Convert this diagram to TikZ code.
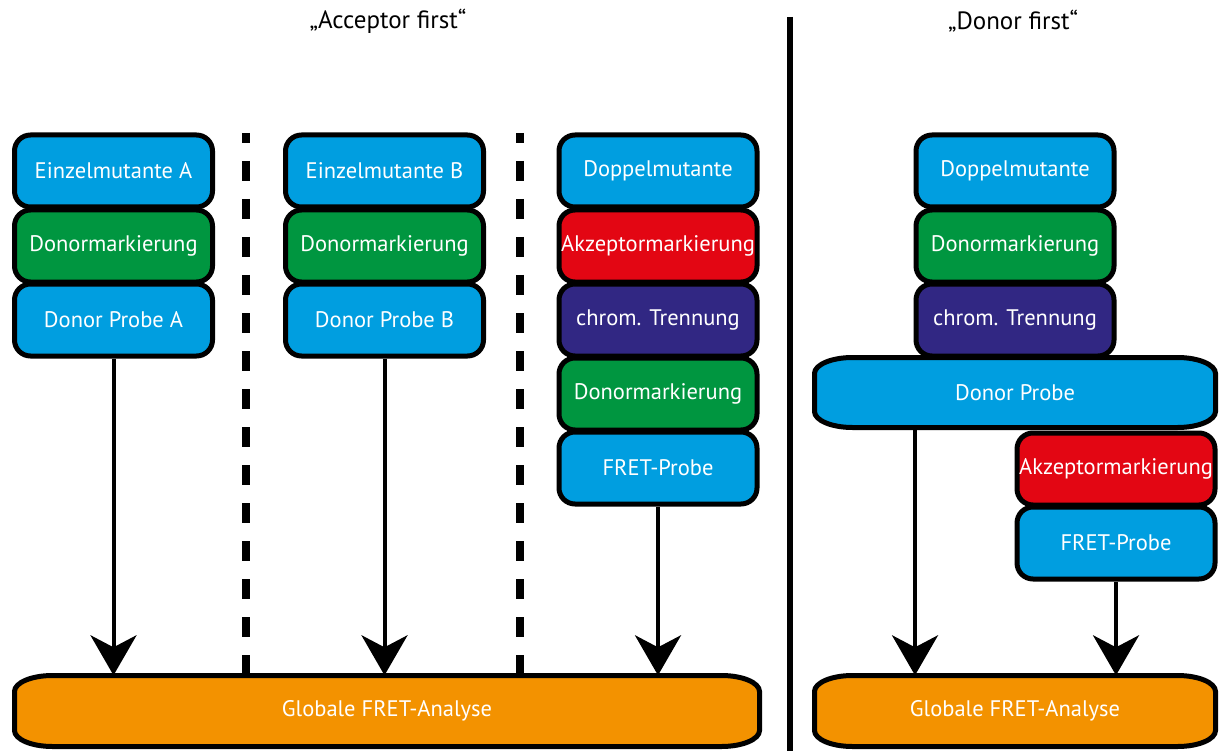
\documentclass[tikz,border=0pt]{standalone}
\usepackage{fontspec}
\setmainfont{PT Sans}
\usetikzlibrary{arrows.meta}
\definecolor{cblue}{RGB}{0,158,224}
\definecolor{cgreen}{RGB}{0,150,64}
\definecolor{cred}{RGB}{227,6,19}
\definecolor{cpurple}{RGB}{49,39,131}
\definecolor{corange}{RGB}{243,146,0}
\newcommand{\roundbar}[5]{%
  \draw[line width=5pt, fill=#1] (#2,#3+16) arc[start angle=180,end angle=270,x radius=38,y radius=16]
   -- (#4-38,#3) arc[start angle=270,end angle=360,x radius=38,y radius=16]
   -- (#4,#5-16) arc[start angle=0,end angle=90,x radius=38,y radius=16]
   -- (#2+38,#5) arc[start angle=90,end angle=180,x radius=38,y radius=16] -- cycle;}
\begin{document}
\begin{tikzpicture}[x=1pt,y=-1pt,
  stepbox/.style={draw=black, line width=5pt, rounded corners=16pt, minimum width=198pt,
    minimum height=72pt, inner sep=0pt, text=white, font=\fontsize{22.5}{26}\selectfont},
  bluebox/.style={stepbox, fill=cblue},
  greenbox/.style={stepbox, fill=cgreen},
  redbox/.style={stepbox, fill=cred},
  purplebox/.style={stepbox, fill=cpurple},
  bartext/.style={inner sep=0pt, text=white, font=\fontsize{22.5}{26}\selectfont},
  flow/.style={line width=4pt, -{Stealth[length=40pt,width=46pt,inset=12pt]}},
  sep/.style={line width=8pt, dash pattern=on 20pt off 18pt, dash phase=10pt},
  title/.style={font=\fontsize{25}{30}\selectfont}]
\useasboundingbox (0,0) rectangle (1220,751);

% titles
\node[title] (t1) at (388,21) {„Acceptor first“};
\node[title] (t2) at (1013,21) {„Donor first“};

% separators
\draw[sep] (246,133) -- (246,673);
\draw[sep] (520,133) -- (520,673);
\draw[line width=6pt] (790,17) -- (790,751);

% bottom bars
\roundbar{corange}{14.5}{675.5}{759.5}{746.5}
\node[bartext, minimum width=745pt, minimum height=71pt] (g1) at (387,711) {Globale FRET-Analyse};
\roundbar{corange}{814.5}{675.5}{1215.5}{746.5}
\node[bartext, minimum width=401pt, minimum height=71pt] (g2) at (1015,711) {Globale FRET-Analyse};

% column 1
\node[bluebox] (a1) at (113.5,171) {Einzelmutante A};
\node[greenbox] (a2) at (113.5,246) {Donormarkierung};
\node[bluebox] (a3) at (113.5,320) {Donor Probe A};

% column 2
\node[bluebox] (b1) at (384.5,171) {Einzelmutante B};
\node[greenbox] (b2) at (384.5,246) {Donormarkierung};
\node[bluebox] (b3) at (384.5,320) {Donor Probe B};

% column 3
\node[bluebox] (c1) at (658,171) {Doppelmutante};
\node[redbox] (c2) at (658,246) {Akzeptormarkierung};
\node[purplebox] (c3) at (658,320) {chrom. Trennung};
\node[greenbox] (c4) at (658,394) {Donormarkierung};
\node[bluebox] (c5) at (658,468) {FRET-Probe};

% donor first
\roundbar{cblue}{814.5}{357.5}{1215.5}{427.5}
\node[bartext, minimum width=401pt, minimum height=70pt] (dp) at (1015,392.5) {Donor Probe};
\node[bluebox] (d1) at (1015,171) {Doppelmutante};
\node[greenbox] (d2) at (1015,246) {Donormarkierung};
\node[purplebox] (d3) at (1015,320) {chrom. Trennung};
\node[redbox] (d4) at (1116,469) {Akzeptormarkierung};
\node[bluebox] (d5) at (1116,543) {FRET-Probe};
\coordinate (dpa) at (915,427);

% arrows
\draw[flow] (a3.south) -- (a3.south |- g1.north);
\draw[flow] (b3.south) -- (b3.south |- g1.north);
\draw[flow] (c5.south) -- (c5.south |- g1.north);
\draw[flow] (dpa) -- (dpa |- g2.north);
\draw[flow] (d5.south) -- (d5.south |- g2.north);
\end{tikzpicture}
\end{document}
